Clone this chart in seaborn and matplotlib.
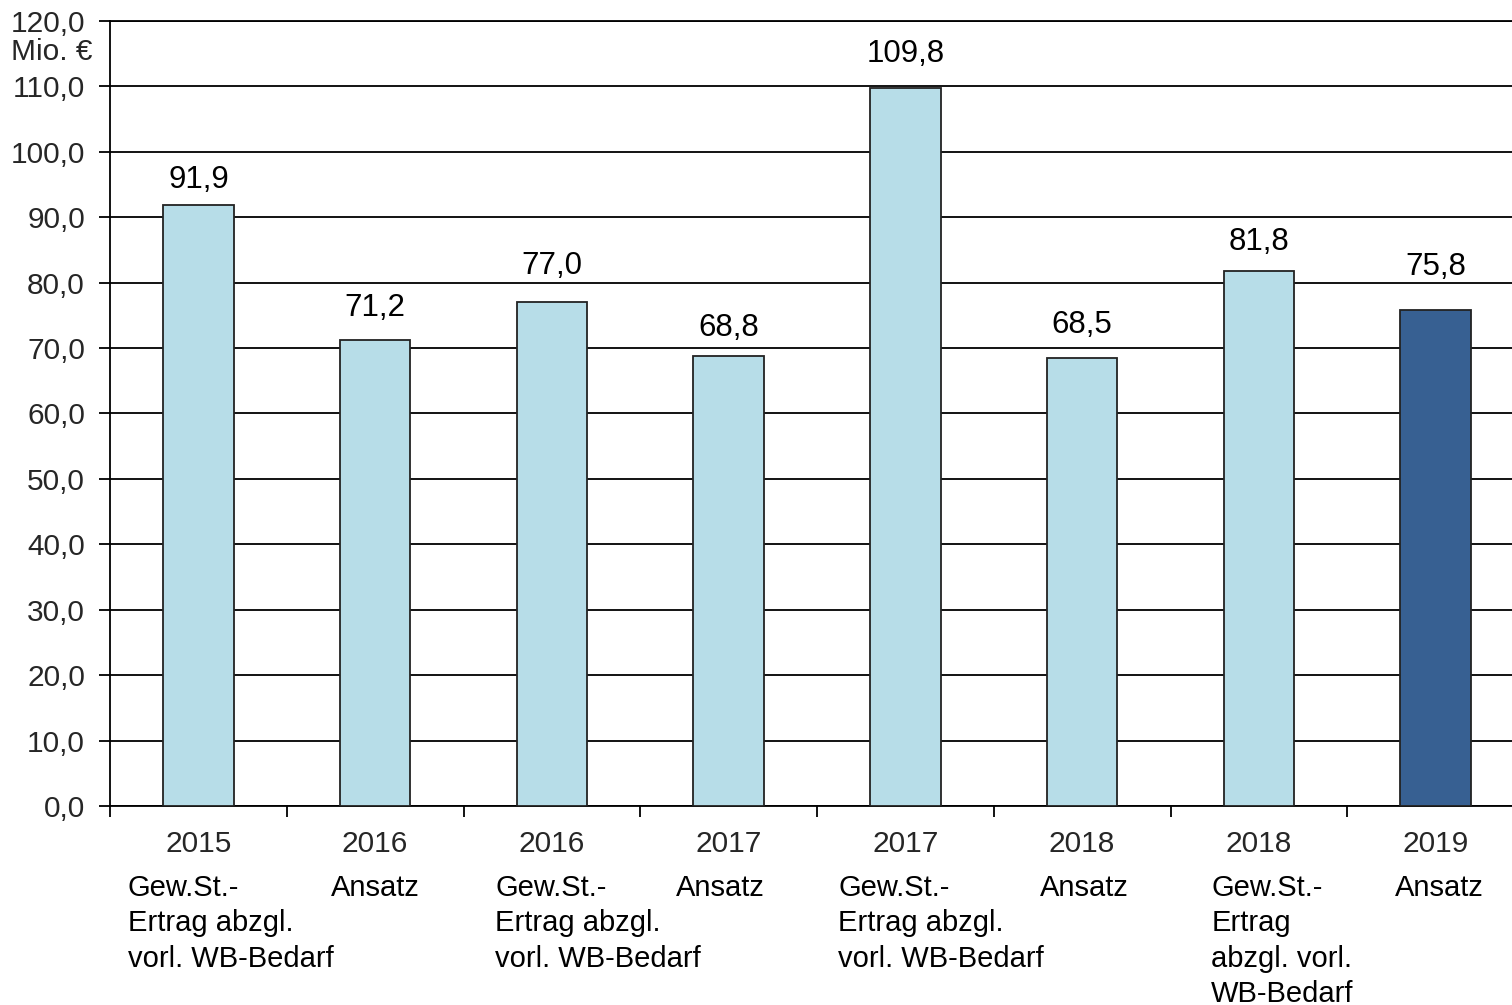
import matplotlib
matplotlib.use("Agg")
import matplotlib.pyplot as plt
import seaborn as sns
import pandas as pd
from matplotlib.transforms import blended_transform_factory

years = ["2015", "2016", "2016", "2017", "2017", "2018", "2018", "2019"]
kinds = ["Gew.St.-\nErtrag abzgl.\nvorl. WB-Bedarf", "Ansatz",
         "Gew.St.-\nErtrag abzgl.\nvorl. WB-Bedarf", "Ansatz",
         "Gew.St.-\nErtrag abzgl.\nvorl. WB-Bedarf", "Ansatz",
         "Gew.St.-\nErtrag\nabzgl. vorl.\nWB-Bedarf", "Ansatz"]
values = [91.9, 71.2, 77.0, 68.8, 109.8, 68.5, 81.8, 75.8]
group = ["hist", "hist", "hist", "hist", "hist", "hist", "hist", "plan"]
yticks = [0, 10, 20, 30, 40, 50, 60, 70, 80, 90, 100, 110, 120]

# layout: horizontal offset (in slots) of each description (left edge or centre)
desc_offsets = [-0.40, 0.0, -0.32, -0.045, -0.38, 0.01, -0.27, 0.02]
desc_align = ["left", "center", "left", "center", "left", "center", "left", "center"]
# layout: vertical gap (px) between bar top and value label centre
label_gaps = [25, 32, 36, 28, 34, 33, 29, 43]

sns.set_theme(style="white")
plt.rcParams['font.family'] = ['Liberation Sans', 'DejaVu Sans']

df = pd.DataFrame({"pos": [f"{i}" for i in range(len(values))],
                   "value": values, "group": group})

fig = plt.figure(figsize=(15.12, 10.05), dpi=100)
ax = fig.add_axes([110/1512, (1005-806)/1005, 1414/1512, 785/1005])

sns.barplot(data=df, x="pos", y="value", hue="group",
            palette={"hist": "#B7DDE8", "plan": "#376092"},
            width=0.4, dodge=False, legend=False, ax=ax,
            edgecolor="#222222", linewidth=1.3, saturation=1, zorder=3)

ax.set_ylim(0, 120)
ax.set_xlim(-0.5, len(values) - 0.5)
ax.set_yticks(yticks)
ax.set_yticklabels([f"{v:.1f}".replace(".", ",") for v in yticks], fontsize=21.5)
ax.yaxis.grid(True, color="black", linewidth=1.3, zorder=0)
ax.set_axisbelow(True)
for s in ["left", "bottom", "top"]:
    ax.spines[s].set_visible(True)
    ax.spines[s].set_color("black")
    ax.spines[s].set_linewidth(1.3)
ax.spines["right"].set_visible(False)
ax.tick_params(axis="y", which="major", direction="out", length=8, width=1.3,
               color="black", left=True, pad=10)

ax.set_xticks(range(len(values)))
ax.set_xticklabels(years, fontsize=21.5)
ax.tick_params(axis="x", which="major", length=0, pad=17)
ax.set_xticks([i + 0.5 for i in range(-1, len(values))], minor=True)
ax.tick_params(axis="x", which="minor", direction="out", length=8, width=1.3,
               color="black", bottom=True)
ax.set_xlabel("")
ax.set_ylabel("")

# value labels
for i, v in enumerate(values):
    ax.annotate(f"{v:.1f}".replace(".", ","), (i, v), xytext=(0, label_gaps[i] * 0.72),
                textcoords="offset points", ha="center", va="center",
                fontsize=22.5, color="black")

# descriptions below years, one text per line
trans = blended_transform_factory(ax.transData, fig.transFigure)
for i, k in enumerate(kinds):
    for j, line in enumerate(k.split("\n")):
        ax.text(i + desc_offsets[i], 1 - (888 + 35.3 * j) / 1005, line,
                transform=trans, ha=desc_align[i], va="center",
                fontsize=21, color="black")

fig.text(52/1512, 1 - 52/1005, "Mio. €", ha="center", va="center", fontsize=21.5)

fig.savefig("out.png", dpi=100)
